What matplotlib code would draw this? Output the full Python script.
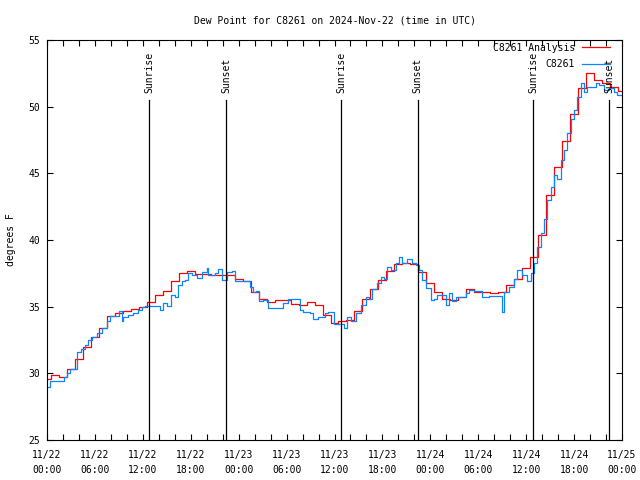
import numpy as np
import matplotlib
matplotlib.use("Agg")
import matplotlib.pyplot as plt
from matplotlib.ticker import MultipleLocator

# hours since 2024-11-22 00:00 UTC
analysis_vals = [29.6, 29.9, 29.7, 30.3, 31.1, 32.0, 32.7, 33.4, 34.3, 34.5,
                 34.7, 34.8, 35.0, 35.35, 35.9, 36.2, 36.9, 37.5, 37.7, 37.45,
                 37.45, 37.4, 37.4, 37.4, 37.1, 36.9, 36.1, 35.6, 35.35, 35.5,
                 35.5, 35.2, 35.1, 35.35, 35.1, 34.4, 33.8, 33.9, 34.0, 34.7,
                 35.6, 36.3, 37.0, 37.7, 38.2, 38.25, 38.2, 37.6, 36.8, 36.1,
                 35.6, 35.5, 35.7, 36.3, 36.1, 36.1, 36.0, 36.1, 36.6, 37.05,
                 37.9, 38.75, 40.4, 43.4, 45.45, 47.4, 49.45, 51.4, 52.5, 52.0,
                 51.75, 51.5, 51.2]
analysis_hours = np.arange(len(analysis_vals))

obs_hours = [0.0, 0.375, 2.125, 2.5, 2.875, 3.75, 4.25, 4.75, 5.125, 5.625,
             6.25, 6.875, 7.5, 7.875, 9.0, 9.375, 9.5, 10.125, 10.75, 11.375,
             11.875, 12.25, 14.125, 14.5, 15.0, 15.5, 16.0, 16.375, 16.875, 17.25,
             17.625, 18.125, 18.75, 19.375, 20.0, 20.125, 21.0, 21.375, 21.875, 22.5,
             23.125, 23.5, 23.875, 25.375, 25.75, 26.125, 26.5, 27.0, 27.625, 29.5,
             30.125, 31.625, 32.0, 32.875, 33.25, 33.875, 34.75, 35.125, 35.875, 37.25,
             37.625, 38.125, 38.75, 39.375, 40.0, 40.375, 40.75, 41.375, 41.875, 42.25,
             42.625, 43.125, 43.75, 44.125, 44.5, 45.125, 45.75, 46.25, 46.625, 47.0,
             47.5, 48.125, 48.5, 48.875, 50.0, 50.375, 50.75, 51.25, 51.875, 52.5,
             52.875, 53.5, 54.5, 55.375, 57.0, 57.25, 57.875, 58.5, 58.875, 59.5,
             60.125, 60.625, 61.0, 61.375, 61.875, 62.25, 62.625, 63.125, 63.5, 63.875,
             64.375, 64.75, 65.125, 65.625, 66.0, 66.375, 66.875, 67.25, 67.625, 68.75,
             69.125, 69.75, 70.375, 71.0, 71.375, 72.0]
obs_vals = [29.0, 29.4, 29.75, 30.05, 30.3, 31.6, 31.8, 32.1, 32.5, 32.7,
            33.05, 33.4, 33.9, 34.3, 34.7, 33.9, 34.2, 34.4, 34.55, 34.75,
            35.0, 35.05, 34.75, 35.3, 35.05, 35.9, 35.7, 36.6, 36.9, 37.0,
            37.5, 37.4, 37.15, 37.6, 37.9, 37.35, 37.5, 37.8, 37.0, 37.6,
            37.65, 36.9, 36.95, 36.5, 36.1, 36.2, 35.4, 35.5, 34.9, 35.25,
            35.55, 34.75, 34.6, 34.5, 34.1, 34.25, 34.5, 34.6, 33.7, 33.4,
            34.25, 33.9, 34.5, 35.1, 35.75, 35.6, 36.3, 36.75, 37.25, 37.1,
            38.0, 37.75, 38.25, 38.75, 38.25, 38.6, 38.25, 38.1, 37.75, 37.0,
            36.4, 35.5, 35.6, 35.9, 35.1, 36.0, 35.4, 35.7, 35.75, 36.0,
            36.25, 36.2, 35.75, 35.8, 34.6, 36.1, 36.5, 37.05, 37.75, 37.4,
            36.9, 37.5, 38.25, 39.5, 40.5, 41.6, 43.0, 44.0, 44.9, 44.6,
            46.0, 46.75, 48.0, 49.1, 49.75, 50.75, 51.75, 51.1, 51.5, 51.75,
            51.6, 51.25, 51.4, 51.1, 50.9, 50.9]

sun_hours = [12 + 50/60, 22 + 26/60, 36 + 51/60, 46 + 26/60, 60 + 52/60, 70 + 26/60]
sun_names = ["Sunrise", "Sunset", "Sunrise", "Sunset", "Sunrise", "Sunset"]

tick_labels = ["11/22\n00:00", "11/22\n06:00", "11/22\n12:00", "11/22\n18:00",
               "11/23\n00:00", "11/23\n06:00", "11/23\n12:00", "11/23\n18:00",
               "11/24\n00:00", "11/24\n06:00", "11/24\n12:00", "11/24\n18:00",
               "11/25\n00:00"]

plt.rcParams['font.family'] = ['DejaVu Sans Mono']
plt.rcParams['font.size'] = 7

fig = plt.figure(figsize=(6.4, 4.8), dpi=100)
ax = fig.add_axes([47/640, 40/480, 575/640, 400/480])

ax.plot(analysis_hours, analysis_vals, color='#ff0000', lw=0.9,
        drawstyle='steps-mid', label='C8261 Analysis')
ax.plot(obs_hours, obs_vals, color='#0a84ff', lw=0.9,
        drawstyle='steps-post', label='C8261')

for h, name in zip(sun_hours, sun_names):
    ax.plot([h, h], [25, 50.5], color='black', lw=0.9)
    ax.text(h, 51.0, name, rotation=90, ha='center', va='bottom', fontsize=7)

ax.set_xlim(0, 72)
ax.set_ylim(25, 55)
ax.set_xticks(np.arange(0, 73, 6))
ax.set_xticklabels(tick_labels)
for lbl in ax.get_xticklabels():
    lbl.set_linespacing(1.6)
ax.xaxis.set_minor_locator(MultipleLocator(2))
ax.set_yticks(np.arange(25, 56, 5))
ax.tick_params(which='both', direction='in', top=True, right=True,
               width=0.8, labelsize=7, length=4)
ax.tick_params(axis='x', pad=7)
ax.tick_params(axis='y', pad=5)
for s in ax.spines.values():
    s.set_linewidth(0.8)

ax.set_ylabel('degrees F', fontsize=7, labelpad=9)
ax.set_title('Dew Point for C8261 on 2024-Nov-22 (time in UTC)', fontsize=7, pad=12)

ax.legend(loc='upper right', bbox_to_anchor=(0.979, 0.993), frameon=False,
          markerfirst=False, fontsize=7, borderaxespad=0, borderpad=0,
          handlelength=2.9, handletextpad=0.7, labelspacing=0.65)

fig.savefig('out.png', dpi=100)
